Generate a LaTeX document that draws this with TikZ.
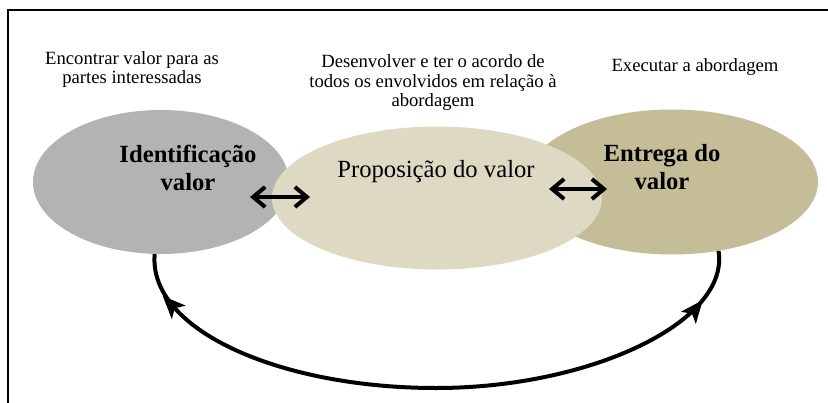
\documentclass[tikz,border=0pt]{standalone}
\usepackage{fontspec}
\setmainfont{Liberation Serif}
\usetikzlibrary{shapes.geometric,arrows.meta,decorations.markings}

\begin{document}
\begin{tikzpicture}[x=0.75pt,y=-0.75pt,
  blob/.style={ellipse,inner sep=0pt,draw=none},
  note/.style={align=center,font=\fontsize{14}{14.6}\selectfont},
  title/.style={align=center,font=\fontsize{18.5}{21}\selectfont\bfseries},
  twoway/.style={{Straight Barb[length=9pt,width=15pt]}-{Straight Barb[length=9pt,width=15pt]},line width=3pt},
  cycleline/.style={line width=3pt,postaction={decorate},
    decoration={markings,
      mark=at position 0.095 with {\arrow{Stealth[length=17pt,width=14pt,inset=4pt,reversed]}},
      mark=at position 0.922 with {\arrow{Stealth[length=17pt,width=14pt,inset=4pt]}}}}]
  \useasboundingbox (0,0) rectangle (828,403);
  \draw[line width=2pt] (8,403) -- (8,10) -- (828,10);
  \node[blob,fill={rgb,255:red,179;green,179;blue,179},minimum width=192pt,minimum height=108pt] (ident) at (161,182) {};
  \node[blob,fill={rgb,255:red,196;green,189;blue,151},minimum width=219pt,minimum height=108.75pt] (entrega) at (672,182) {};
  \node[blob,fill={rgb,255:red,221;green,217;blue,195},minimum width=247.5pt,minimum height=107.25pt] (prop) at (437,198) {};
  \node[title] (identtxt) at (188,167.5) {Identificação\\valor};
  \node[font=\fontsize{18.5}{21}\selectfont] (proptxt) at (436,171.6) {Proposição do valor};
  \node[title] (entregatxt) at (662,167) {Entrega do\\valor};
  \node[note] (leftnote) at (132,69.7) {Encontrar valor para as\\partes interessadas};
  \node[note] (midnote) at (433,83) {Desenvolver e ter o acordo de\\todos os envolvidos em relação à\\abordagem};
  \node[note] (rightnote) at (695,67.3) {Executar a abordagem};
  \coordinate (la) at (250,197);
  \coordinate (lb) at (310,197);
  \coordinate (ra) at (549,189);
  \coordinate (rb) at (607,189);
  \coordinate (bot) at (436,388);
  \draw[twoway] (la) -- (lb);
  \draw[twoway] (ra) -- (rb);
  \draw[cycleline] (ident.-95) .. controls (148,330) and (280,388) .. (bot)
    .. controls (590,388) and (730,322) .. (entrega.-56);
\end{tikzpicture}
\end{document}
